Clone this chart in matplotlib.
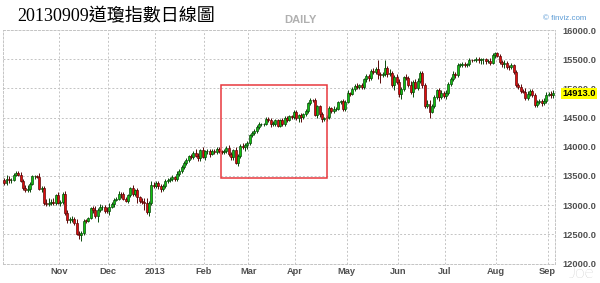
import matplotlib
matplotlib.use("Agg")
import matplotlib.pyplot as plt
import matplotlib.transforms as mtransforms
from matplotlib.patches import Rectangle
import numpy as np
import pandas as pd

# ---------------- data ----------------
title = "20130909道瓊指數日線圖"
first_open = 13425
closes = [
    13377,
    13455, 13423, 13435, 13515, 13550, 13524, 13414, 13285, 13267, 13269, 13365, 13491, 13497, 13488, 13284, 13286, 13043, 13017, 13044, 13047, 13036,
    13172, 13033, 13052, 13186, 12873, 12751, 12755, 12755, 12696, 12511, 12483, 12528, 12736, 12729, 12777, 12950, 12908, 12818, 12925, 12962, 12966,
    12906, 12892, 12975, 13015, 13095, 13110, 13189, 13185, 13111, 13075, 13176, 13291, 13192, 13252, 13131, 13079, 13054, 13036, 12878, 13044,
    13352, 13331, 13375, 13324, 13269, 13330, 13411, 13428, 13447, 13474, 13451, 13536, 13590, 13652, 13720, 13765, 13836, 13822, 13894, 13850, 13801,
    13950, 13820, 13920, 13927, 13884, 13933, 13911, 13959, 13922, 13913, 13921, 13976, 13868, 13821, 13940, 13724, 13840, 14016, 13994,
    14030, 14068, 14194, 14236, 14269, 14337, 14388, 14390, 14395, 14479, 14454, 14392, 14396, 14452, 14361, 14452, 14388, 14500, 14466, 14519,
    14513, 14602, 14490, 14546, 14505, 14553, 14613, 14742, 14805, 14800, 14539, 14696, 14558, 14477, 14488, 14507, 14659, 14616, 14641, 14652, 14759, 14780,
    14640, 14771, 14914, 14909, 14996, 15045, 15023, 15058, 15032, 15156, 15215, 15173, 15294, 15275, 15328, 15247, 15234, 15243, 15349, 15243, 15265, 15056,
    15194, 15117, 14900, 14981, 15188, 15179, 15062, 14935, 15117, 15011, 15120, 15258, 15052, 14698, 14740, 14600, 14700, 14850, 14965, 14850,
    14915, 14872, 14928, 15076, 15165, 15240, 15231, 15401, 15404, 15424, 15392, 15410, 15489, 15484, 15485, 15508, 15483, 15495, 15499, 15461, 15461, 15440,
    15568, 15598, 15552, 15459, 15411, 15438, 15365, 15359, 15392, 15277, 15053, 15021, 14950, 14943, 14837, 14903, 14950, 14886, 14716, 14764, 14780, 14750,
    14790, 14890, 14900, 14880, 14913,
]
upper_wick = [
    40,
    60, 40, 30, 30, 40, 30, 50, 40, 60, 70, 30, 30, 20, 20, 60, 40, 40, 60, 80, 60, 70,
    20, 60, 30, 40, 60, 40, 50, 60, 50, 60, 40, 30, 20, 30, 20, 10, 30, 70, 20, 60, 40,
    40, 60, 60, 30, 30, 30, 60, 40, 40, 30, 20, 20, 60, 20, 40, 30, 50, 60, 80, 20,
    60, 40, 30, 30, 30, 40, 40, 30, 30, 40, 30, 50, 30, 30, 40, 40, 30, 40, 30, 60, 50,
    20, 40, 30, 30, 40, 30, 30, 30, 40, 30, 40, 30, 50, 50, 30, 60, 30, 30, 50,
    30, 30, 30, 30, 30, 30, 30, 20, 20, 30, 30, 30, 40, 30, 30, 30, 40, 20, 20, 20,
    20, 30, 30, 20, 30, 30, 30, 30, 30, 20, 40, 20, 20, 40, 30, 30, 40, 30, 50, 30, 20, 20,
    30, 30, 60, 30, 30, 30, 40, 20, 30, 30, 30, 30, 30, 50, 40, 154, 40, 40, 130, 30, 60, 40,
    40, 60, 40, 40, 30, 60, 40, 60, 30, 40, 50, 40, 40, 40, 60, 60, 40, 30, 30, 40,
    50, 40, 40, 40, 30, 50, 40, 40, 30, 20, 30, 30, 30, 20, 20, 30, 30, 20, 20, 20, 40, 60,
    30, 20, 30, 30, 20, 40, 30, 40, 40, 30, 40, 40, 60, 40, 60, 60, 40, 40, 30, 40, 40, 40,
    40, 40, 40, 60, 60,
]
lower_wick = [
    30,
    30, 40, 50, 30, 20, 30, 20, 30, 40, 40, 40, 20, 40, 30, 20, 60, 40, 30, 30, 40, 40,
    40, 20, 40, 30, 40, 50, 60, 40, 40, 20, 60, 90, 40, 40, 20, 20, 40, 30, 100, 40, 40,
    40, 30, 60, 30, 40, 30, 30, 60, 30, 30, 40, 30, 30, 40, 90, 40, 40, 120, 30, 60,
    40, 40, 40, 40, 40, 30, 30, 30, 40, 30, 40, 30, 30, 40, 30, 30, 30, 30, 40, 30, 40,
    50, 20, 40, 40, 60, 30, 40, 30, 30, 40, 40, 30, 20, 40, 40, 20, 50, 30, 30,
    70, 60, 30, 20, 30, 40, 40, 30, 40, 30, 30, 60, 40, 40, 30, 30, 30, 30, 40, 30,
    40, 30, 30, 60, 80, 30, 30, 30, 30, 40, 20, 40, 50, 60, 30, 40, 30, 30, 30, 30, 30, 30,
    30, 20, 30, 40, 30, 40, 30, 40, 40, 40, 40, 40, 30, 30, 30, 90, 140, 40, 30, 40, 30, 30,
    90, 50, 40, 80, 30, 40, 30, 30, 80, 30, 40, 30, 40, 40, 40, 110, 30, 30, 40, 60,
    40, 30, 60, 40, 40, 40, 50, 30, 30, 30, 30, 20, 30, 30, 20, 30, 40, 60, 70, 40, 30, 40,
    30, 40, 20, 40, 40, 60, 30, 40, 30, 30, 30, 30, 30, 30, 30, 40, 30, 30, 30, 30, 40, 60,
    30, 40, 20, 40, 50,
]
holidays = ["2012-10-29", "2012-10-30", "2012-11-22", "2012-12-25", "2013-01-01",
            "2013-01-21", "2013-02-18", "2013-03-29", "2013-05-27", "2013-07-04",
            "2013-09-02"]
month_labels = ["Nov", "Dec", "2013", "Feb", "Mar", "Apr", "May", "Jun", "Jul", "Aug", "Sep"]
month_keys = [(2012, 11), (2012, 12), (2013, 1), (2013, 2), (2013, 3), (2013, 4),
              (2013, 5), (2013, 6), (2013, 7), (2013, 8), (2013, 9)]
y_ticks = [12000, 12500, 13000, 13500, 14000, 14500, 15000, 15500, 16000]
last_price = 14913.0
box_x = (92.6, 138.1)
box_y = (13471, 15058)

# ---------------- build ----------------
dates = pd.bdate_range("2012-09-28", "2013-09-09", freq="C", holidays=holidays)
n = min(len(closes), len(dates), len(upper_wick), len(lower_wick))
c = np.array(closes[:n], float)
o = np.array([first_open] + closes[:n - 1], float)
uw = np.array(upper_wick[:n], float)
lw = np.array(lower_wick[:n], float)
hi = np.maximum(o, c) + uw
lo = np.minimum(o, c) - lw
idx = np.arange(n)
up = c >= o

W, H = 600, 283
fig = plt.figure(figsize=(W / 100, H / 100), dpi=100)
fig.patch.set_facecolor("white")
ax = fig.add_axes([3 / W, 1 - 263.5 / H, 552 / W, 233.5 / H])
ax.set_xlim(-0.5, 235.7)
ax.set_ylim(12000, 16000)

grid_col = "#c4c4c4"
dash = (0, (2, 2))
ax.set_axisbelow(True)
ax.grid(True, color=grid_col, linestyle=dash, linewidth=0.7)
for s in ax.spines.values():
    s.set_linestyle(dash)
    s.set_color(grid_col)
    s.set_linewidth(0.7)

face = np.where(up, "#10c010", "#e00c0c")
edge = np.where(up, "#0a4a0a", "#5a0808")
ax.vlines(idx, lo, hi, colors=edge, linewidth=0.7, zorder=2)
ax.bar(idx, np.maximum(np.abs(c - o), 8), bottom=np.minimum(o, c), width=0.85,
       color=face, edgecolor=edge, linewidth=0.5, zorder=3)

# month ticks
pos = []
for (yy, mm) in month_keys:
    k = np.where((dates[:n].year == yy) & (dates[:n].month == mm))[0]
    pos.append(k[0] + 1.5 if len(k) else np.nan)
ax.set_xticks(pos)
ax.set_xticklabels(month_labels)
ax.set_yticks(y_ticks)
ax.set_yticklabels([f"{v:.1f}" for v in y_ticks])
ax.yaxis.tick_right()
ax.tick_params(axis="both", length=0, labelsize=6.7, labelcolor="#505050")
ax.tick_params(axis="y", pad=5)
ax.tick_params(axis="x", pad=2.5)
for lbl in ax.get_xticklabels() + ax.get_yticklabels():
    lbl.set_fontfamily("Liberation Sans")
    lbl.set_fontweight("bold")

# highlight rectangle
ax.add_patch(Rectangle((box_x[0], box_y[0]), box_x[1] - box_x[0], box_y[1] - box_y[0],
                       fill=False, edgecolor="#e8383d", linewidth=1.1, zorder=5))

# last price label
trans = mtransforms.blended_transform_factory(ax.transAxes, ax.transData)
ax.text(1.0 + 7 / 552, last_price, f"{last_price:.1f}", transform=trans, ha="left",
        va="center", fontsize=6.7, fontweight="bold", color="black",
        family="Liberation Sans", clip_on=False, zorder=10,
        bbox=dict(boxstyle="square,pad=0.12", fc="#ffff00", ec="none"))

# texts
fig.text(17 / W, 1 - 16.5 / H, title, ha="left", va="center", fontsize=13,
         family=["Liberation Serif", "Noto Sans CJK TC"], color="black")
fig.text(300 / W, 1 - 20 / H, "DAILY", ha="center", va="center", fontsize=8,
         fontweight="bold", color="#b0b0b0", family="Liberation Sans")
fig.text(586 / W, 1 - 18 / H, "© finviz.com", ha="right", va="center", fontsize=5.7,
         color="#5b9bd5", family="Liberation Sans")
fig.text(581 / W, 1.5 / H, "Joe", ha="center", va="bottom", fontsize=12.5,
         color="#aaaaaa", family="Lato", fontweight="light")

fig.savefig("out.png", dpi=100, facecolor="white")
